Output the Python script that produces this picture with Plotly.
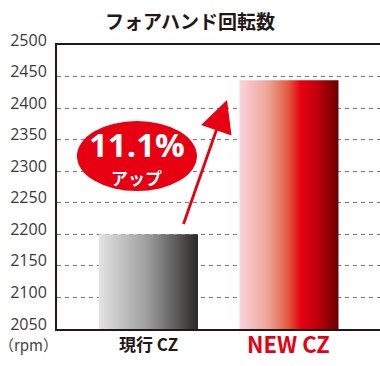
import plotly.graph_objects as go

categories = ["現行 CZ", "NEW CZ"]
rpm = [2200, 2444]
y_ticks = [2050, 2100, 2150, 2200, 2250, 2300, 2350, 2400, 2450, 2500]
title_text = "フォアハンド回転数"
unit_text = "（rpm）"
badge_main = "11.1%"
badge_sub = "アップ"

base = 2050
bar_w = 0.705
scales = [
    [[0, "#e3e3e3"], [0.5, "#9c9c9c"], [1, "#2b2727"]],
    [[0, "#fad5df"], [0.3, "#eda292"], [0.5, "#e3553a"], [0.62, "#e60012"],
     [0.78, "#c0000c"], [1, "#6a0000"]],
]
label_colors = ["#231815", "#e60012"]
label_sizes = [17, 22]
JP = "Noto Sans CJK JP"

fig = go.Figure()
for i, (c, v) in enumerate(zip(categories, rpm)):
    x0, x1 = i - bar_w / 2, i + bar_w / 2
    fig.add_trace(go.Scatter(
        x=[x0, x1, x1, x0, x0], y=[base, base, v, v, base],
        mode="lines", fill="toself", line=dict(width=0),
        fillgradient=dict(type="horizontal", colorscale=scales[i]),
        hoverinfo="skip", showlegend=False, name=c,
    ))
    fig.add_annotation(
        x=i, xref="x", y=-0.05, yref="paper", text=f"<b>{c}</b>",
        showarrow=False, xanchor="center", yanchor="middle",
        font=dict(family=JP, size=label_sizes[i], color=label_colors[i]),
    )

fig.add_annotation(
    x=-0.0867, xref="paper", y=-0.055, yref="paper", text=unit_text,
    showarrow=False, xanchor="center", yanchor="middle",
    font=dict(family=JP, size=15, color="#444444"),
)

# badge ellipse
cx, cy = -0.082, 2324
fig.add_shape(type="circle", xref="x", yref="y", xsizemode="pixel", ysizemode="pixel",
              xanchor=cx, yanchor=cy, x0=-60, x1=60, y0=-35, y1=35,
              fillcolor="#e60012", line=dict(width=0), layer="above")
fig.add_annotation(x=cx, y=cy, xref="x", yref="y", text=f"<b>{badge_main}</b>",
                   showarrow=False, yshift=12, xanchor="center", yanchor="middle",
                   font=dict(family="Open Sans", size=33, color="white"))
fig.add_annotation(x=cx, y=cy, xref="x", yref="y", text=f"<b>{badge_sub}</b>",
                   showarrow=False, yshift=-21, xanchor="center", yanchor="middle",
                   font=dict(family=JP, size=17, color="white"))

# arrow
fig.add_annotation(x=0.559, y=2413, ax=0.2456, ay=2214, xref="x", yref="y",
                   axref="x", ayref="y", text="", showarrow=True,
                   arrowhead=2, arrowsize=2.3, arrowwidth=2.8, arrowcolor="#e60012")

fig.update_layout(
    width=380, height=366,
    margin=dict(l=57, r=0, t=45, b=37),
    paper_bgcolor="white", plot_bgcolor="white",
    title=dict(text=f"<b>{title_text}</b>", x=0.5, xref="container", xanchor="center",
               y=1 - 22 / 366, yref="container", yanchor="middle",
               font=dict(family=JP, size=19, color="#231815")),
    xaxis=dict(range=[-0.651, 1.648], showgrid=False, zeroline=False,
               showticklabels=False, ticks="", showline=True, mirror=True,
               linecolor="#231815", linewidth=2, fixedrange=True),
    yaxis=dict(range=[2050, 2500], tickvals=y_ticks, showgrid=True,
               gridcolor="#7a7a7a", griddash="4px,4px", gridwidth=1,
               zeroline=False, showline=True, linecolor="#231815", linewidth=2,
               ticks="", ticklabelstandoff=5, ticklabelshift=-5,
               tickfont=dict(family="Open Sans", size=16, color="#3a3a3a"),
               fixedrange=True),
)

fig.write_html("out.html")
